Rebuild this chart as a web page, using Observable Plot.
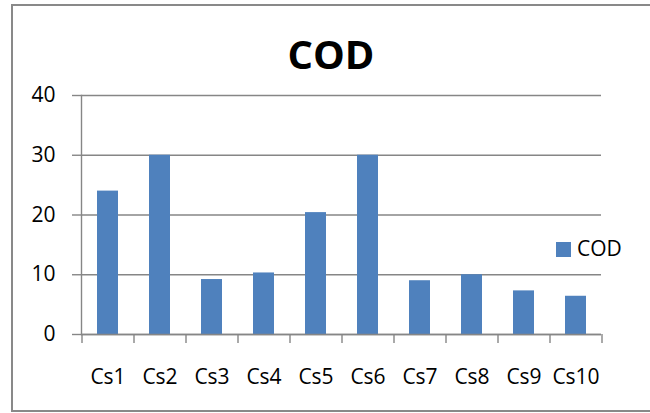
<!DOCTYPE html>
<html>
<head>
<meta charset="utf-8">
<script src="https://cdn.jsdelivr.net/npm/d3@7"></script>
<script src="https://cdn.jsdelivr.net/npm/@observablehq/plot@0.6"></script>
<style>
  html, body { margin: 0; padding: 0; background: #fff; }
  #wrap { position: relative; width: 650px; height: 413px; overflow: hidden; font-family: 'Open Sans', sans-serif; }
  #chart { position: absolute; left: 0; top: 0; }
  #border { position: absolute; left: 11px; top: 4px; width: 700px; height: 408px; box-sizing: border-box; border: 2px solid #898989; pointer-events: none; }
  #title { position: absolute; left: 0; width: 662px; top: 34px; text-align: center; font-size: 40px; line-height: 40px; font-weight: bold; color: #000; }
  #legend { position: absolute; left: 556px; top: 238px; height: 21px; font-size: 21px; line-height: 21px; color: #000; }
  #legend .sw { position: absolute; left: 0; top: 4px; width: 15px; height: 15px; }
  #legend .lab { position: absolute; left: 21px; top: 0; white-space: nowrap; }
</style>
</head>
<body>
<div id="wrap">
  <div id="chart"></div>
  <div id="title"></div>
  <div id="legend"><span class="sw"></span><span class="lab"></span></div>
  <div id="border"></div>
</div>
<script>
const categories = ["Cs1", "Cs2", "Cs3", "Cs4", "Cs5", "Cs6", "Cs7", "Cs8", "Cs9", "Cs10"];
const codValues = [24, 30, 9.2, 10.3, 20.4, 30, 9, 10, 7.3, 6.4];
const yTicks = [0, 10, 20, 30, 40];
const seriesName = "COD";
const chartTitle = "COD";

const W = 650, H = 413;
const mL = 81, mR = 49, mT = 95, mB = 79;
const barColor = "#4F81BD";
const axisColor = "#868686";
const step = (W - mL - mR) / categories.length;

const data = categories.map((c, i) => ({ cat: c, value: codValues[i] }));

const chart = Plot.plot({
  width: W,
  height: H,
  marginLeft: mL,
  marginRight: mR,
  marginTop: mT,
  marginBottom: mB,
  style: { fontFamily: "'Open Sans', sans-serif", fontSize: "21px", color: "#000", background: "transparent", overflow: "visible" },
  x: { domain: categories, paddingInner: 0.6, paddingOuter: 0.3, label: null },
  y: { domain: [0, 40], label: null },
  marks: [
    Plot.gridY(yTicks, { stroke: axisColor, strokeOpacity: 1, strokeWidth: 1.4 }),
    Plot.axisY(yTicks, { tickSize: 9, tickPadding: 17, stroke: axisColor, strokeWidth: 1.4, fill: "#000", fontSize: 21, label: null }),
    Plot.frame({ anchor: "left", stroke: axisColor, strokeWidth: 1.4 }),
    Plot.barY(data, { x: "cat", y: "value", fill: barColor }),
    Plot.ruleY([0], { stroke: axisColor, strokeWidth: 1.4 }),
    Plot.axisX({ tickSize: 9, tickFormat: () => "", dx: -step / 2, stroke: axisColor, strokeWidth: 1.4, label: null }),
    Plot.axisX([categories[categories.length - 1]], { tickSize: 9, tickFormat: () => "", dx: step / 2, stroke: axisColor, strokeWidth: 1.4, label: null }),
    Plot.axisX({ tickSize: 0, tickPadding: 35, fill: "#000", fontSize: 21, label: null })
  ]
});

document.getElementById("chart").appendChild(chart);
document.getElementById("title").textContent = chartTitle;
document.querySelector("#legend .sw").style.background = barColor;
document.querySelector("#legend .lab").textContent = seriesName;
</script>
</body>
</html>
